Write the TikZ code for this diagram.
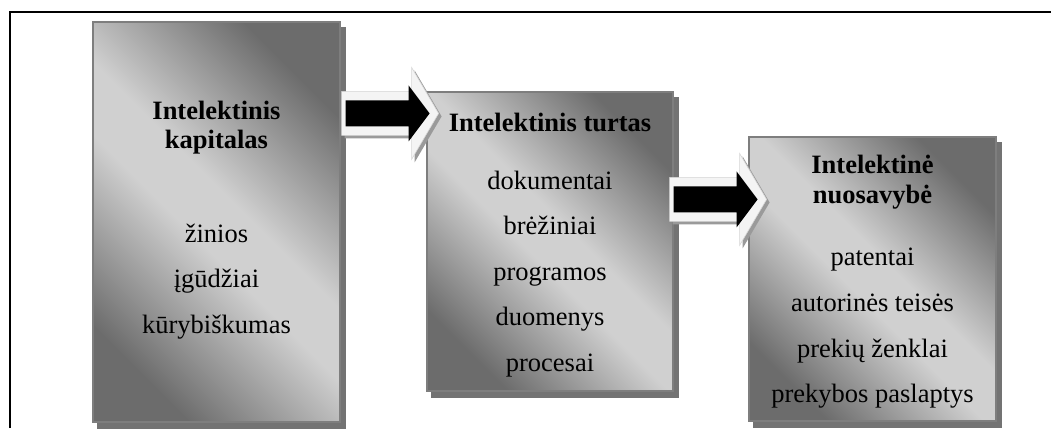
\documentclass[tikz,border=0pt]{standalone}
\usepackage{fontspec}
\setmainfont{Liberation Serif}
\usetikzlibrary{calc,backgrounds}

\definecolor{shadedark}{HTML}{6C6C6C}
\definecolor{shadelight}{HTML}{D0D0D0}
\definecolor{boxline}{HTML}{7E7E7E}
\definecolor{boxshadow}{HTML}{737373}
\definecolor{arrowwhite}{HTML}{F4F4F4}
\definecolor{arrowedge}{HTML}{D4D4D4}
\definecolor{arrowshadow}{HTML}{9A9A9A}

% dark - light - dark band, turned so the light band runs along the
% top-left to bottom-right diagonal of each panel
\pgfdeclareverticalshading{panelshade}{100bp}{%
  color(0bp)=(shadedark); color(25bp)=(shadedark);
  color(46bp)=(shadelight); color(54bp)=(shadelight);
  color(75bp)=(shadedark); color(100bp)=(shadedark)}

\tikzset{
  panel/.style={draw=boxline, line width=1.2bp,
    shading=panelshade, shading angle=-45, inner sep=0pt},
  panelshadow/.style={fill=boxshadow},
  headline/.style={font=\fontsize{26.6}{30}\selectfont\bfseries, anchor=base, inner sep=0pt},
  itemline/.style={font=\fontsize{26.6}{30}\selectfont, anchor=base, inner sep=0pt},
  pics/blockarrow/.style={code={
    % outer light arrow with its shadow, then the black arrow inside
    \fill[arrowshadow] (3,-19) -- (73,-19) -- (73,-43) -- (100,3) -- (73,49) -- (73,25) -- (3,25) -- cycle;
    \filldraw[fill=arrowwhite, draw=arrowedge, line width=0.6bp]
      (0,-22) -- (70,-22) -- (70,-46) -- (97,0) -- (70,46) -- (70,22) -- (0,22) -- cycle;
    \fill[black] (4,-13) -- (67,-13) -- (67,-28) -- (88,0) -- (67,28) -- (67,13) -- (4,13) -- cycle;
  }}
}

\begin{document}
\begin{tikzpicture}[x=1bp, y=-1bp]
  \useasboundingbox (0,0) rectangle (1051,428);

  % frame lines
  \draw[line width=1.8bp] (10,428) -- (10,12) -- (1051,12);

  % panels
  \node[panel, minimum width=247bp, minimum height=400bp] (b1) at (216.5,222) {};
  \node[panel, minimum width=246bp, minimum height=299bp] (b2) at (550,241.5) {};
  \node[panel, minimum width=247bp, minimum height=284bp] (b3) at (872.5,279) {};

  \begin{scope}[on background layer]
    \foreach \b in {b1,b2,b3}
      \fill[panelshadow] ($(\b.north west)+(5,6)$) rectangle ($(\b.south east)+(5,6)$);
  \end{scope}

  % arrows between the panels
  \pic (arr1) at ([xshift=1bp, yshift=-92bp]b1.north east) {blockarrow};
  \pic (arr2) at ([xshift=-4bp, yshift=-108bp]b2.north east) {blockarrow};

  % panel 1
  \node[headline] (h1a) at (b1 |- 0,119) {Intelektinis};
  \node[headline] (h1b) at (b1 |- 0,148) {kapitalas};
  \node[itemline] (i1a) at (b1 |- 0,242) {žinios};
  \node[itemline] (i1b) at (b1 |- 0,287.5) {įgūdžiai};
  \node[itemline] (i1c) at (b1 |- 0,333) {kūrybiškumas};

  % panel 2
  \node[headline] (h2a) at (b2 |- 0,131) {Intelektinis turtas};
  \node[itemline] (i2a) at (b2 |- 0,189) {dokumentai};
  \node[itemline] (i2b) at (b2 |- 0,234.5) {brėžiniai};
  \node[itemline] (i2c) at (b2 |- 0,280) {programos};
  \node[itemline] (i2d) at (b2 |- 0,325.5) {duomenys};
  \node[itemline] (i2e) at (b2 |- 0,371) {procesai};

  % panel 3
  \node[headline] (h3a) at (b3 |- 0,173) {Intelektinė};
  \node[headline] (h3b) at (b3 |- 0,203) {nuosavybė};
  \node[itemline] (i3a) at (b3 |- 0,265) {patentai};
  \node[itemline] (i3b) at (b3 |- 0,311) {autorinės teisės};
  \node[itemline] (i3c) at (b3 |- 0,357) {prekių ženklai};
  \node[itemline] (i3d) at (b3 |- 0,402) {prekybos paslaptys};
\end{tikzpicture}
\end{document}
